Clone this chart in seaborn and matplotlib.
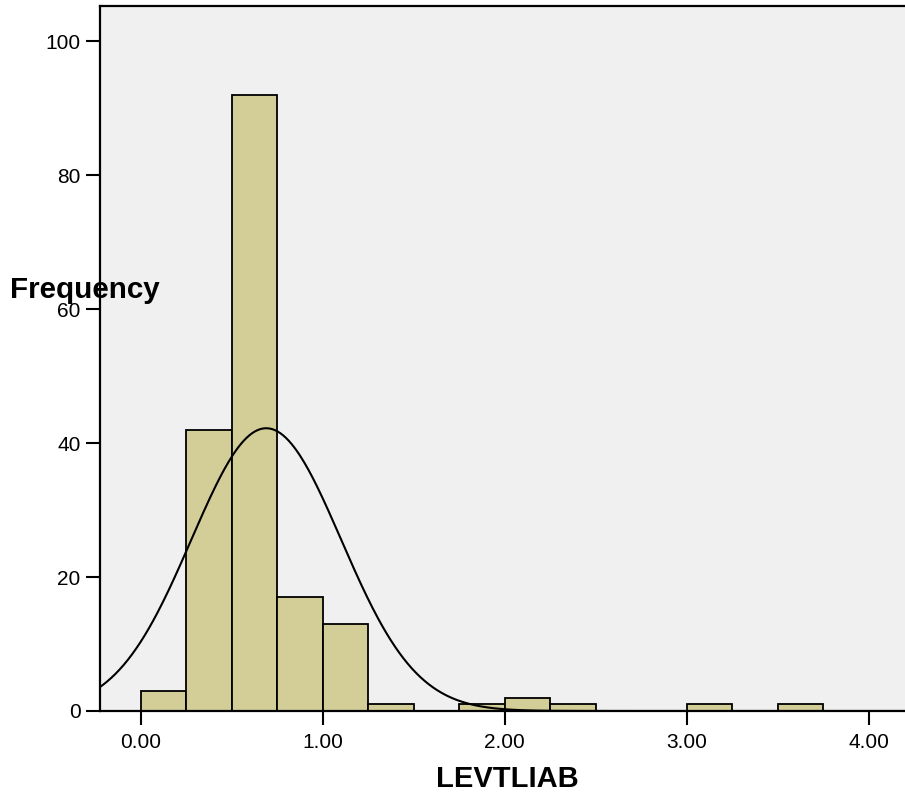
import numpy as np
import pandas as pd
import matplotlib
matplotlib.use("Agg")
import matplotlib.pyplot as plt
import seaborn as sns

# Histogram of LEVTLIAB: bin edges (width 0.25) and frequency per bin
bin_edges = [0.00, 0.25, 0.50, 0.75, 1.00, 1.25, 1.50, 1.75, 2.00,
             2.25, 2.50, 2.75, 3.00, 3.25, 3.50, 3.75]
frequencies = [3, 42, 92, 17, 13, 1, 0, 1, 2, 1, 0, 0, 1, 0, 1]

# Normal curve parameters
mean_value = 0.69
std_value = 0.411
n_cases = 174

x_ticks = [0.0, 1.0, 2.0, 3.0, 4.0]
x_tick_labels = ["0.00", "1.00", "2.00", "3.00", "4.00"]
y_ticks = [0, 20, 40, 60, 80, 100]

sns.set_theme(style="white")
plt.rcParams["font.family"] = ["Liberation Sans", "DejaVu Sans"]
plt.rcParams["text.color"] = "black"
plt.rcParams["axes.labelcolor"] = "black"

fig = plt.figure(figsize=(9.05, 7.94), dpi=100)
ax = fig.add_axes([100 / 905, 1 - 711 / 794, 1 - 100 / 905 + 0.01, (711 - 5.5) / 794])
ax.set_facecolor("#F0F0F0")

edges = np.array(bin_edges)
centers = (edges[:-1] + edges[1:]) / 2
df = pd.DataFrame({"LEVTLIAB": centers, "count": frequencies})

sns.histplot(data=df, x="LEVTLIAB", weights="count", bins=list(bin_edges),
             color="#D3CE97", alpha=1.0, edgecolor="black", linewidth=1.3, ax=ax)

# Fitted normal curve scaled to the histogram
bw = edges[1] - edges[0]
xs = np.linspace(-0.3, 4.3, 600)
ys = n_cases * bw / (std_value * np.sqrt(2 * np.pi)) * np.exp(-0.5 * ((xs - mean_value) / std_value) ** 2)
sns.lineplot(x=xs, y=ys, color="black", linewidth=1.5, ax=ax)

ax.set_xlim((100 - 140.7) / 182.5, (905 - 140.7) / 182.5 + 0.06)
ax.set_ylim(0, (711 - 5.5) / 6.697)

ax.set_xticks(x_ticks)
ax.set_xticklabels(x_tick_labels)
ax.set_yticks(y_ticks)
ax.tick_params(axis="both", direction="out", length=10, width=1.5, color="black",
               labelsize=15, labelcolor="black", pad=4, bottom=True, left=True)
ax.tick_params(axis="x", pad=6)

for side in ["left", "bottom", "top"]:
    ax.spines[side].set_visible(True)
    ax.spines[side].set_color("black")
    ax.spines[side].set_linewidth(1.6)
ax.spines["right"].set_visible(False)

ax.set_ylabel("")
ax.set_xlabel("LEVTLIAB", fontsize=21, fontweight="bold", labelpad=9, color="black")
fig.text(10 / 905, 1 - 290 / 794, "Frequency", fontsize=21.3, fontweight="bold",
         ha="left", va="center", color="black")

fig.savefig("out.png", dpi=100)
